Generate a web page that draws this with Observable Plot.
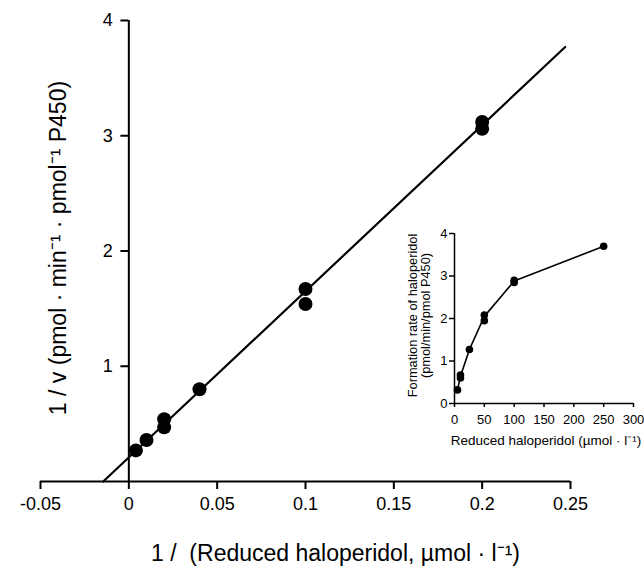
<!DOCTYPE html>
<html>
<head>
<meta charset="utf-8">
<script src="https://cdn.jsdelivr.net/npm/d3@7"></script>
<script src="https://cdn.jsdelivr.net/npm/@observablehq/plot@0.6"></script>
<style>
  body { margin: 0; background: #fff; }
  #wrap { position: relative; width: 644px; height: 573px; overflow: hidden; font-family: "Liberation Sans", Arial, sans-serif; }
  #main { position: absolute; left: 0; top: 0; }
  #inset { position: absolute; left: 380px; top: 210px; }
</style>
</head>
<body>
<div id="wrap"><div id="main"></div><div id="inset"></div></div>
<script>
// Main plot: Lineweaver-Burk
const invConc = [0.004, 0.01, 0.02, 0.02, 0.04, 0.1, 0.1, 0.2, 0.2];
const invRate = [0.27, 0.36, 0.47, 0.54, 0.80, 1.54, 1.67, 3.06, 3.12];
const fitX = [-0.0145, 0.247];
const fitY = [0, 3.77];
const xTicks = [-0.05, 0, 0.05, 0.1, 0.15, 0.2, 0.25];
const xTickLabels = ["-0.05", "0", "0.05", "0.1", "0.15", "0.2", "0.25"];
const yTicks = [1, 2, 3, 4];
const xTitle = "1 /\u00a0 (Reduced haloperidol, µmol · l⁻¹)";
const yTitle = "1 / v (pmol · min⁻¹ · pmol⁻¹ P450)";

// Inset: Michaelis-Menten
const conc = [5, 10, 10, 25, 50, 50, 100, 100, 250];
const rate = [0.32, 0.60, 0.67, 1.27, 1.95, 2.08, 2.85, 2.90, 3.70];
const lineConc = [5, 10, 25, 50, 100, 250];
const lineRate = [0.32, 0.64, 1.27, 2.05, 2.88, 3.70];
const insetXTicks = [0, 50, 100, 150, 200, 250, 300];
const insetYTicks = [0, 1, 2, 3, 4];
const insetXTitle = "Reduced haloperidol (µmol · l⁻¹)";
const insetYTitle = "Formation rate of haloperidol\n(pmol/min/pmol P450)";

const pts = invConc.map((x, i) => ({x, y: invRate[i]}));
const fit = fitX.map((x, i) => ({x, y: fitY[i]}));

const main = Plot.plot({
  width: 644, height: 573,
  marginLeft: 40, marginRight: 74, marginTop: 20, marginBottom: 92,
  style: {fontFamily: "Liberation Sans, Arial, sans-serif", color: "#000", background: "transparent"},
  x: {domain: [-0.05, 0.25]},
  y: {domain: [0, 4], axis: null},
  marks: [
    Plot.axisX({ticks: xTicks, tickFormat: (d) => xTickLabels[xTicks.indexOf(d)], tickSize: 8, tickPadding: 8, fontSize: 18, strokeWidth: 2, label: null}),
    Plot.ruleY([0], {strokeWidth: 2}),
    Plot.ruleX([0], {y1: 0, y2: 4, strokeWidth: 2}),
    Plot.ruleY(yTicks, {y: (d) => d, x1: -0.0045, x2: 0, strokeWidth: 2}),
    Plot.text(yTicks, {x: 0, y: (d) => d, text: (d) => String(d), dx: -16, textAnchor: "end", fontSize: 18}),
    Plot.line(fit, {x: "x", y: "y", strokeWidth: 2.2}),
    Plot.dot(pts, {x: "x", y: "y", r: 7, fill: "#000", stroke: "none"}),
    Plot.text([xTitle], {frameAnchor: "bottom", textAnchor: "middle", lineAnchor: "middle", dx: 30, dy: 72, fontSize: 23}),
    Plot.text([yTitle], {frameAnchor: "left", textAnchor: "middle", lineAnchor: "middle", rotate: -90, dx: 18, dy: -3, fontSize: 23})
  ]
});
document.getElementById("main").appendChild(main);

const ipts = conc.map((x, i) => ({x, y: rate[i]}));
const iline = lineConc.map((x, i) => ({x, y: lineRate[i]}));

const inset = Plot.plot({
  width: 264, height: 240,
  marginLeft: 74, marginRight: 11, marginTop: 23, marginBottom: 47,
  style: {fontFamily: "Liberation Sans, Arial, sans-serif", color: "#000", background: "transparent", overflow: "visible"},
  x: {domain: [0, 300]},
  y: {domain: [0, 4]},
  marks: [
    Plot.axisX({ticks: insetXTicks, tickFormat: "d", tickSize: 4, tickPadding: 7, fontSize: 13, strokeWidth: 1.5, label: null}),
    Plot.axisY({ticks: insetYTicks, tickFormat: "d", tickSize: 5, tickPadding: 2, fontSize: 13, strokeWidth: 1.5, label: null}),
    Plot.ruleY([0], {strokeWidth: 1.5}),
    Plot.ruleX([0], {strokeWidth: 1.5}),
    Plot.line(iline, {x: "x", y: "y", strokeWidth: 1.6}),
    Plot.dot(ipts, {x: "x", y: "y", r: 3.8, fill: "#000", stroke: "none"}),
    Plot.text([insetXTitle], {frameAnchor: "bottom", textAnchor: "middle", lineAnchor: "middle", dx: 2, dy: 37, fontSize: 13.5}),
    Plot.text([insetYTitle], {frameAnchor: "left", textAnchor: "middle", lineAnchor: "middle", rotate: -90, dx: -35, dy: -3, fontSize: 12.8, lineHeight: 1.0})
  ]
});
document.getElementById("inset").appendChild(inset);
</script>
</body>
</html>
